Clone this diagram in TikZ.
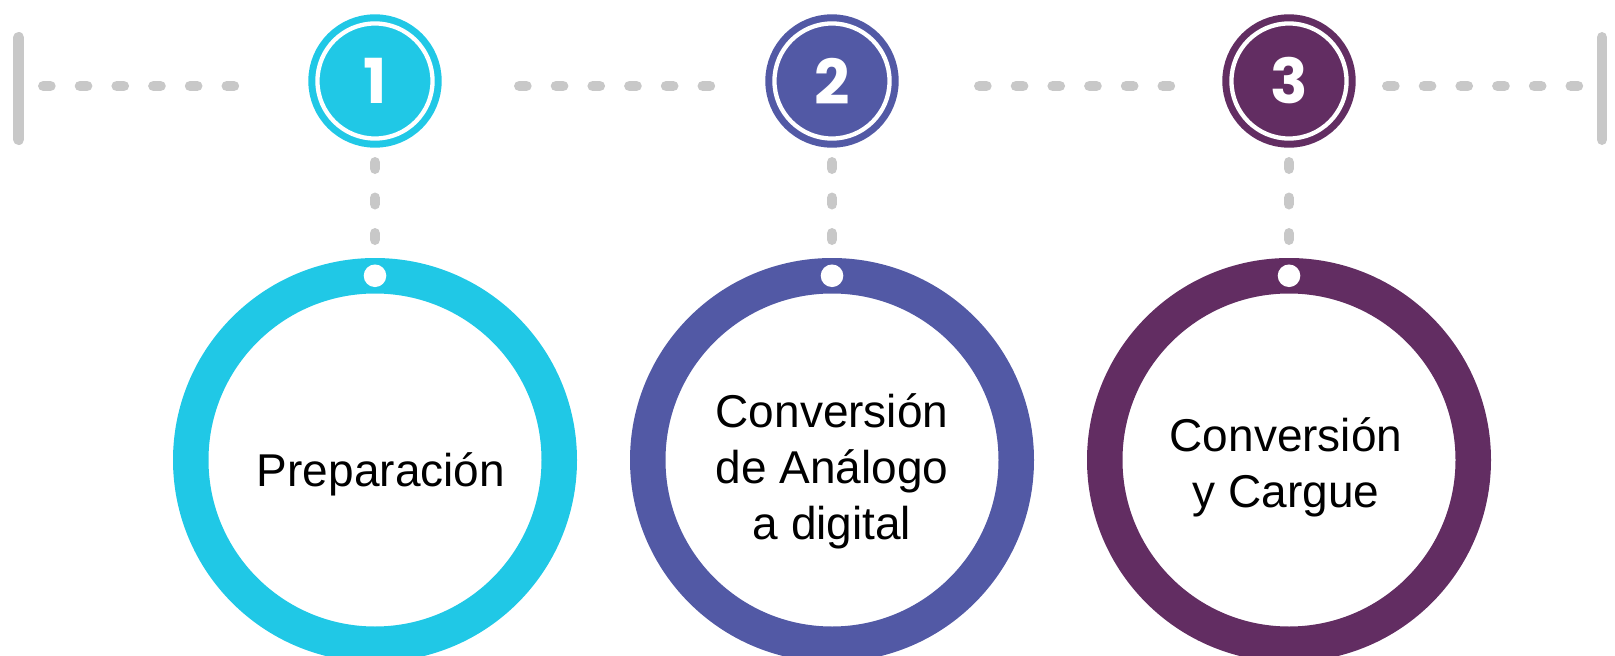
\documentclass[tikz,border=0pt]{standalone}
\usepackage{fontspec}
\setmainfont{Liberation Sans}
\newfontfamily\numfont{Poppins}
\definecolor{stepcyan}{RGB}{32,200,230}
\definecolor{stepblue}{RGB}{82,89,165}
\definecolor{stepplum}{RGB}{98,45,98}
\definecolor{dashgrey}{RGB}{200,200,200}
\tikzset{
    numcircle/.style={circle, fill=#1, draw=#1, double=white, double distance=4.3pt,
        line width=7pt, minimum size=115.1pt, inner sep=0pt, outer sep=0pt,
        text=white, font=\numfont\bfseries\fontsize{62}{62}\selectfont},
    ring/.style={circle, draw=#1, line width=35.5pt, minimum size=368.5pt,
        inner sep=0pt, outer sep=0pt},
    hole/.style={circle, fill=white, minimum size=22.6pt, inner sep=0pt},
    steptext/.style={align=center, font=\fontsize{46}{56}\selectfont},
    dashrow/.style={dashgrey, line width=10.7pt, line cap=round, dash pattern=on 7pt off 29.7pt},
    dashcol/.style={dashgrey, line width=10.7pt, line cap=round, dash pattern=on 6.3pt off 29.2pt},
    endbar/.style={dashgrey, line width=10.7pt, line cap=round}
}
\begin{document}
\begin{tikzpicture}[x=1pt, y=-1pt]
    \useasboundingbox (0,0) rectangle (1615,656);

    % big rings
    \node[ring=stepcyan] (ring1) at (375,460) {};
    \node[ring=stepblue] (ring2) at (832,460) {};
    \node[ring=stepplum] (ring3) at (1289,460) {};
    \node[hole] (hole1) at (ring1.north) {};
    \node[hole] (hole2) at (ring2.north) {};
    \node[hole] (hole3) at (ring3.north) {};

    \node[steptext] (txt1) at ([xshift=6pt,yshift=-14pt]ring1.center) {Preparación};
    \node[steptext] (txt2) at ([yshift=-11pt]ring2.center) {Conversión\\de Análogo\\a digital};
    \node[steptext] (txt3) at ([xshift=-3pt,yshift=-7pt]ring3.center) {Conversión\\y Cargue};

    % numbered circles
    \node[numcircle=stepcyan] (num1) at (375,81) {1};
    \node[numcircle=stepblue] (num2) at (832,81) {2};
    \node[numcircle=stepplum] (num3) at (1289,81) {3};

    % timeline
    \coordinate (barL) at (18.7,86);
    \coordinate (barR) at (1602,86);
    \draw[endbar] (18.7,37.35) -- (18.7,139.65);
    \draw[endbar] (1602,37.35) -- (1602,139.65);
    \draw[dashrow] ([xshift=24.65pt]barL) -- ([xshift=-69.45pt,yshift=-5pt]num1.west);
    \draw[dashrow] ([xshift=86.8pt,yshift=-5pt]num1.east) -- ([xshift=-49.45pt,yshift=-5pt]num2.west);
    \draw[dashrow] ([xshift=89.8pt,yshift=-5pt]num2.east) -- ([xshift=-49.45pt,yshift=-5pt]num3.west);
    \draw[dashrow] ([xshift=40.8pt,yshift=-5pt]num3.east) -- ([xshift=-20pt]barR);

    \draw[dashcol] ([yshift=-23.8pt]num1.south) -- ([yshift=30.75pt]ring1.north);
    \draw[dashcol] ([yshift=-23.8pt]num2.south) -- ([yshift=30.75pt]ring2.north);
    \draw[dashcol] ([yshift=-23.8pt]num3.south) -- ([yshift=30.75pt]ring3.north);
\end{tikzpicture}
\end{document}
